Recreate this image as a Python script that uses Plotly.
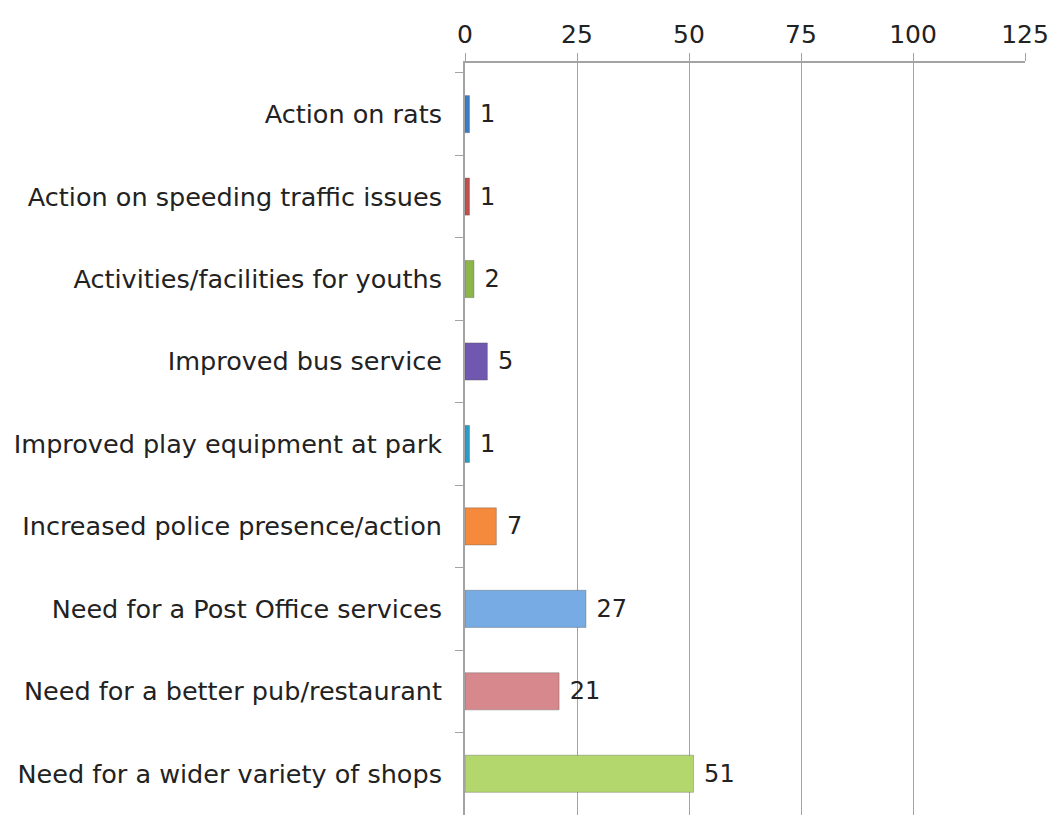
import plotly.graph_objects as go

categories = [
    "Action on rats",
    "Action on speeding traffic issues",
    "Activities/facilities for youths",
    "Improved bus service",
    "Improved play equipment at park",
    "Increased police presence/action",
    "Need for a Post Office services",
    "Need for a better pub/restaurant",
    "Need for a wider variety of shops",
]
counts = [1, 1, 2, 5, 1, 7, 27, 21, 51]
bar_colors = ["#3b7dc4", "#c0504d", "#8db64a", "#7058b0", "#2b9cc9",
              "#f58a3c", "#77abe4", "#d6888c", "#b3d76c"]
x_ticks = [0, 25, 50, 75, 100, 125]

fig = go.Figure(go.Bar(
    y=categories,
    x=counts,
    orientation="h",
    marker=dict(color=bar_colors, line=dict(color="rgba(80,80,80,0.35)", width=1)),
    texttemplate=" %{x}",
    textposition="outside",
    textfont=dict(size=24, color="#222"),
    cliponaxis=False,
    width=0.45,
))

fig.update_layout(
    width=1061,
    height=821,
    paper_bgcolor="white",
    plot_bgcolor="white",
    font=dict(family="DejaVu Sans", color="#222", size=25.5),
    margin=dict(t=51, b=14, l=457, r=44),
    showlegend=False,
)
fig.update_xaxes(
    side="top",
    range=[0, 125],
    tickvals=x_ticks,
    tickfont=dict(size=25, color="#222"),
    showgrid=True,
    gridcolor="#a3a3a3",
    gridwidth=1.2,
    showline=True,
    linecolor="#a3a3a3",
    linewidth=1.5,
    mirror=False,
    zeroline=False,
    ticks="outside",
    ticklen=8,
    tickcolor="#a3a3a3",
)
fig.update_yaxes(
    range=[8.5, -0.62],
    automargin=False,
    showline=True,
    linecolor="#a3a3a3",
    linewidth=1.5,
    ticks="outside",
    tickson="boundaries",
    ticklen=8,
    tickcolor="#a3a3a3",
    tickfont=dict(size=25.5, color="#222"),
    ticksuffix="  ",
)

fig.write_html("out.html")
